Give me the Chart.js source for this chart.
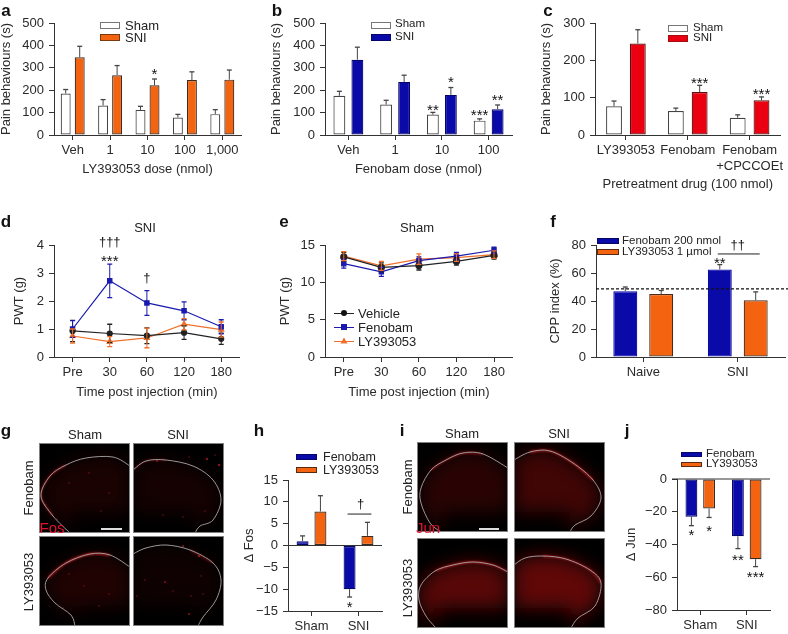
<!DOCTYPE html>
<html><head><meta charset="utf-8">
<script src="https://cdn.jsdelivr.net/npm/chart.js@4"></script>
<style>
html,body{margin:0;padding:0;background:#fff}
#p{position:relative;width:788px;height:634px;overflow:hidden;font-family:"Liberation Sans",Arial,sans-serif;color:#222}
#p canvas{position:absolute}
.t{position:absolute;white-space:nowrap;line-height:1;transform:translate(-50%,-50%)}
.l{transform:translate(0,-50%)}
.s{position:absolute;box-sizing:border-box}
svg{position:absolute}
</style></head><body><div id="p"></div>
<script>
// ---------- data ----------
const aCats=['Veh','1','10','100','1,000'];
const aSham=[185,132,112,78,93], aShamErr=[18,26,16,14,20];
const aSNI=[347,267,222,245,247], aSNIErr=[49,43,28,37,43];
const bCats=['Veh','1','10','100'];
const bSham=[175,136,91,64], bShamErr=[20,19,10,8];
const bSNI=[336,237,179,115], bSNIErr=[56,30,33,19];
const cCats=['LY393053','Fenobam',['Fenobam','+CPCCOEt']];
const cSham=[77,64,46], cShamErr=[14,8,8];
const cSNI=[245,115,93], cSNIErr=[37,18,9];
const timeCats=['Pre','30','60','120','180'];
const dVeh=[0.93,0.84,0.76,0.87,0.65], dVehErr=[0.38,0.33,0.28,0.24,0.20];
const dFen=[1.0,2.72,1.93,1.65,1.08], dFenErr=[0.3,0.6,0.44,0.32,0.25];
const dLY=[0.75,0.55,0.68,1.17,0.98], dLYErr=[0.25,0.18,0.35,0.2,0.27];
const eVeh=[13.4,12.0,12.25,12.8,13.6], eVehErr=[0.6,0.6,0.6,0.5,0.5];
const eFen=[12.5,11.4,12.9,13.5,14.3], eFenErr=[0.6,0.6,0.5,0.5,0.4];
const eLY=[13.5,12.2,13.1,13.3,13.7], eLYErr=[0.6,0.6,0.7,0.5,0.5];
const fCats=['Naive','SNI'];
const fFen=[47,62.5], fFenErr=[3,3.5];
const fLY=[45,40.5], fLYErr=[2.5,6];
const fChance=48.7;
const hCats=['Sham','SNI'];
const hFen=[1,-10], hFenErr=[1.2,1.8];
const hLY=[7.8,2.2], hLYErr=[3.6,3.1];
const jCats=['Sham','SNI'];
const jFen=[-23,-35], jFenErr=[5.5,7.5];
const jLY=[-18,-49], jLYErr=[5.5,4.5];

const ORANGE='#f4630f',BLUE='#0a0aa8',RED='#ea0010',INK='#2a2a2a',AX='#333';
const FONT='"Liberation Sans",Arial,sans-serif';
const root=document.getElementById('p');

function txt(x,y,s,o={}){
  const d=document.createElement('div');d.className='t'+(o.left?' l':'');d.textContent=s;
  d.style.left=x+'px';d.style.top=y+'px';d.style.fontSize=(o.size||13)+'px';
  if(o.bold)d.style.fontWeight='bold';
  if(o.color)d.style.color=o.color;
  if(o.rot)d.style.transform='translate(-50%,-50%) rotate(-90deg)';
  root.appendChild(d);return d;
}
function swatch(x,y,w,h,fill,border){
  const d=document.createElement('div');d.className='s';
  d.style.cssText+=`left:${x}px;top:${y-h/2}px;width:${w}px;height:${h}px;background:${fill};border:1px solid ${border}`;
  root.appendChild(d);
}

const decor={id:'decor',afterDatasetsDraw(ch,_,o){
  const c=ch.ctx,Y=ch.scales.y;
  c.save();
  // error bars
  ch.data.datasets.forEach((ds,i)=>{
    if(!ds.err)return;
    const m=ch.getDatasetMeta(i);
    c.strokeStyle=ds.errColor||'#444';
    ds.data.forEach((v,k)=>{
      const x=m.data[k].x,e=ds.err[k],dir=v<0?-1:1;
      const hi=Y.getPixelForValue(v+dir*e);
      const lo=ch.config.type==='line'?Y.getPixelForValue(v-dir*e):Y.getPixelForValue(v);
      c.lineWidth=1;c.beginPath();c.moveTo(x,hi);c.lineTo(x,lo);c.stroke();
      c.lineWidth=1.3;c.beginPath();c.moveTo(x-2.5,hi);c.lineTo(x+2.5,hi);
      if(ch.config.type==='line'){c.moveTo(x-2.5,lo);c.lineTo(x+2.5,lo);}
      c.stroke();
    });
  });
  // zero baseline
  if(o.zero){
    const y=Y.getPixelForValue(0);c.strokeStyle=AX;c.lineWidth=1;
    c.beginPath();c.moveTo(ch.chartArea.left-5,y);c.lineTo(ch.chartArea.right,y);c.stroke();
  }
  // dashed reference line
  if(o.dash!=null){
    const y=Y.getPixelForValue(o.dash);c.strokeStyle='#111';c.lineWidth=1.3;c.setLineDash([3,2]);
    c.beginPath();c.moveTo(ch.chartArea.left,y);c.lineTo(ch.width,y);c.stroke();c.setLineDash([]);
  }
  // bracket [dsA,cat,dsB,value]
  (o.brackets||[]).forEach(b=>{
    const y=Y.getPixelForValue(b[3]);c.strokeStyle='#222';c.lineWidth=1;
    c.beginPath();c.moveTo(ch.getDatasetMeta(b[0]).data[b[1]].x-2,y);
    c.lineTo(ch.getDatasetMeta(b[2]).data[b[1]].x+4,y);c.stroke();
  });
  // notes [ds,cat,value,text,xshift]
  c.fillStyle='#111';c.textAlign='center';
  (o.notes||[]).forEach(n=>{
    const x=(n[0]==null?(ch.getDatasetMeta(0).data[n[1]].x+ch.getDatasetMeta(ch.data.datasets.length-1).data[n[1]].x)/2:ch.getDatasetMeta(n[0]).data[n[1]].x)+(n[4]||0);
    const y=Y.getPixelForValue(n[2]);
    if(n[3].includes('*')){c.font='15px '+FONT;c.textBaseline='alphabetic';c.fillText(n[3],x,y+8);}
    else{c.font='13px '+FONT;c.textBaseline='middle';c.fillText(n[3],x,y);}
  });
  c.restore();
}};

function mk(o){
  const [l,t,r,b]=o.plot;
  const mt=16,mr=o.mr||4;
  const cl=Math.round(o.ytx-7.8), ct=t-mt;
  const cb=o.xty?Math.round(o.xty+7.8):b+(o.mb||28);
  const cv=document.createElement('canvas');
  const W=r+mr-cl,H=cb-ct;
  cv.width=W;cv.height=H;cv.style.left=cl+'px';cv.style.top=ct+'px';cv.style.width=W+'px';cv.style.height=H+'px';
  root.appendChild(cv);
  const tick={size:13,family:FONT};
  new Chart(cv,{type:o.type,data:{labels:o.cats,datasets:o.ds},plugins:[decor],options:{
    responsive:false,animation:false,
    layout:{padding:{top:mt,right:mr,left:0,bottom:0}},
    plugins:{legend:{display:false},tooltip:{enabled:false},title:{display:false},
      decor:{zero:o.zero,dash:o.dash,notes:o.notes,brackets:o.brackets}},
    scales:{
      x:{type:'category',offset:true,
        grid:{display:true,drawOnChartArea:false,drawTicks:true,tickLength:5,tickColor:AX,tickWidth:1,offset:false},
        border:{display:true,color:AX,width:1},
        ticks:{color:INK,font:tick,padding:3,maxRotation:0,minRotation:0,autoSkip:false},
        title:{display:!!o.xt,text:o.xt,color:INK,font:{size:13,family:FONT},padding:0},
        afterFit:s=>{s.height=cb-b;}},
      y:{min:o.y[0],max:o.y[1],
        grid:{display:true,drawOnChartArea:false,drawTicks:true,tickLength:5,tickColor:AX,tickWidth:1},
        border:{display:true,color:AX,width:1},
        ticks:{color:INK,font:tick,padding:5,stepSize:o.y[2],callback:v=>String(v).replace('-','\u2212')},
        title:{display:true,text:o.yt,color:INK,font:{size:13,family:FONT},padding:0},
        afterFit:s=>{s.width=l-cl;}}
    }}});
}
function bar(label,data,err,fill,border,cp,bp){
  return {label,data,err,backgroundColor:fill,borderColor:border,borderWidth:1.2,borderSkipped:false,categoryPercentage:cp,barPercentage:bp};
}
function line(label,data,err,color,pt,r){
  return {label,data,err,errColor:color,borderColor:color,backgroundColor:color,borderWidth:1.2,pointStyle:pt,pointRadius:r,tension:0};
}
const DK='#3a2a20',SH='#444';

// a
mk({type:'bar',plot:[54,23,241,135],ytx:7,xty:169,cats:aCats,xt:'LY393053 dose (nmol)',yt:'Pain behaviours (s)',y:[0,500,100],
 ds:[bar('Sham',aSham,aShamErr,'#fff',SH,.75,.71),bar('SNI',aSNI,aSNIErr,ORANGE,DK,.75,.71)],
 notes:[[1,2,285,'*']]});
// b
mk({type:'bar',plot:[325,23,512,135],ytx:277,xty:169,cats:bCats,xt:'Fenobam dose (nmol)',yt:'Pain behaviours (s)',y:[0,500,100],
 ds:[bar('Sham',bSham,bShamErr,'#fff',SH,.77,.66),bar('SNI',bSNI,bSNIErr,BLUE,'#06066a',.77,.66)],
 notes:[[0,2,125,'**'],[1,2,249,'*'],[0,3,102,'***'],[1,3,169,'**']]});
// c
mk({type:'bar',plot:[595,23,781,135],ytx:547,xty:184,mr:6,cats:cCats,xt:'Pretreatment drug (100 nmol)',yt:'Pain behaviours (s)',y:[0,300,100],
 ds:[bar('Sham',cSham,cShamErr,'#fff',SH,.77,.667),bar('SNI',cSNI,cSNIErr,RED,'#5a1010',.77,.667)],
 notes:[[1,1,147,'***'],[1,2,118,'***']]});
// d
mk({type:'line',plot:[54,245,241,357],ytx:20,xty:392,cats:timeCats,xt:'Time post injection (min)',yt:'PWT (g)',y:[0,4,1],
 ds:[line('Vehicle',dVeh,dVehErr,'#222','circle',2.5),line('Fenobam',dFen,dFenErr,'#1a1ab0','rect',3),line('LY393053',dLY,dLYErr,'#f0702a','triangle',3)],
 notes:[[1,1,4.1,'\u2020\u2020\u2020'],[1,1,3.54,'***'],[1,2,2.82,'\u2020']]});
// e
mk({type:'line',plot:[325,245,514,357],ytx:286,xty:392,cats:timeCats,xt:'Time post injection (min)',yt:'PWT (g)',y:[0,15,5],
 ds:[line('Vehicle',eVeh,eVehErr,'#222','circle',3),line('Fenobam',eFen,eFenErr,'#1a1ab0','rect',3),line('LY393053',eLY,eLYErr,'#f0702a','triangle',3.5)]});
// f
mk({type:'bar',plot:[596,245,785,357],ytx:556,mr:3,mb:26,cats:fCats,yt:'CPP index (%)',y:[0,80,20],dash:fChance,
 ds:[bar('Fenobam 200 nmol',fFen,fFenErr,BLUE,BLUE,.76,.667),bar('LY393053 1 \u00b5mol',fLY,fLYErr,ORANGE,'#4a2a1a',.76,.667)],
 brackets:[[0,1,1,73.6]],
 notes:[[null,1,80,'\u2020\u2020'],[0,1,69.3,'**']]});
// h
mk({type:'bar',plot:[288,480,382,611],ytx:250,mb:24,cats:hCats,yt:'\u0394 Fos',y:[-15,15,5],zero:true,
 ds:[bar('Fenobam',hFen,hFenErr,BLUE,'#06066a',.76,.67),bar('LY393053',hLY,hLYErr,ORANGE,DK,.76,.67)],
 brackets:[[0,1,1,7.2]],
 notes:[[null,1,9.4,'\u2020',2],[0,1,-13.5,'*']]});
// j
mk({type:'bar',plot:[677,479,770,610],ytx:632,mb:24,cats:jCats,yt:'\u0394 Jun',y:[-80,0,20],zero:true,
 ds:[bar('Fenobam',jFen,jFenErr,BLUE,'#06066a',.76,.67),bar('LY393053',jLY,jLYErr,ORANGE,DK,.76,.67)],
 notes:[[0,0,-32.4,'*'],[1,0,-30,'*'],[0,1,-47.5,'**'],[1,1,-58,'***']]});

// legends
swatch(100,25,20,7,'#fff','#777');swatch(100,37,20,7,ORANGE,'#7a3a10');
txt(125,25,'Sham',{left:1,size:13});txt(125,37,'SNI',{left:1,size:13});
swatch(371,25,20,7,'#fff','#777');swatch(371,37,20,7,BLUE,'#06066a');
txt(395,24,'Sham',{left:1,size:11.5});txt(395,37,'SNI',{left:1,size:11.5});
swatch(668,28,20,7,'#fff','#777');swatch(668,38,20,7,RED,'#a01010');
txt(693,28,'Sham',{left:1,size:11.5});txt(693,38,'SNI',{left:1,size:11.5});
swatch(597,241,22,6,BLUE,'#06066a');swatch(597,252,22,6,ORANGE,'#5a2a10');
txt(622,241,'Fenobam 200 nmol',{left:1,size:11.5});txt(622,252,'LY393053 1 \u00b5mol',{left:1,size:11.5});
swatch(296,457,21,6,BLUE,'#06066a');swatch(296,470,21,6,ORANGE,'#5a2a10');
txt(323,457,'Fenobam',{left:1,size:12.5});txt(323,470,'LY393053',{left:1,size:12.5});
swatch(681,454,21,5,BLUE,'#06066a');swatch(681,464,21,5,ORANGE,'#5a2a10');
txt(706,454,'Fenobam',{left:1,size:11.5});txt(706,464,'LY393053',{left:1,size:11.5});
// e legend
[['Vehicle',313,'#222'],['Fenobam',327,'#1a1ab0'],['LY393053',341,'#f0702a']].forEach(r=>{
  const d=document.createElement('div');d.className='s';
  d.style.cssText+=`left:334px;top:${r[1]-.5}px;width:20px;height:1px;background:${r[2]}`;root.appendChild(d);
  txt(358,r[1],r[0],{left:1,size:13});
});
(function(){
  const k=document.createElementNS('http://www.w3.org/2000/svg','svg');
  k.setAttribute('width','788');k.setAttribute('height','634');k.style.left=0;k.style.top=0;
  k.innerHTML='<circle cx="344" cy="313" r="3" fill="#111"/><rect x="341" y="324" width="6" height="6" fill="#1a1ab0"/><path d="M344 337.5l3.5 6h-7z" fill="#f0702a"/>';
  root.appendChild(k);
})();

// panel titles and letters
txt(145,227,'SNI');txt(417,227,'Sham');
[['a',6,10],['b',277,10],['c',548,10],['d',6,221],['e',284,221],['f',553,221],['g',6,430],['h',259,430],['i',402,430],['j',627,430]]
 .forEach(a=>txt(a[1],a[2],a[0],{bold:1,size:17,color:'#111'}));

// micrographs (illustrative)
txt(85,434,'Sham');txt(178,434,'SNI');txt(28,488,'Fenobam',{rot:1});txt(28,582,'LY393053',{rot:1});
txt(462,433,'Sham');txt(559,433,'SNI');txt(407,487,'Fenobam',{rot:1});txt(407,588,'LY393053',{rot:1});

function spline(p){
  let d=`M${p[0][0]} ${p[0][1]}`;
  for(let i=0;i<p.length-1;i++){
    const a=p[Math.max(i-1,0)],b=p[i],c=p[i+1],e=p[Math.min(i+2,p.length-1)];
    d+=` C${b[0]+(c[0]-a[0])/6} ${b[1]+(c[1]-a[1])/6} ${c[0]-(e[0]-b[0])/6} ${c[1]-(e[1]-b[1])/6} ${c[0]} ${c[1]}`;
  }
  return d;
}
let uid=0;
function micro(x,y,pts,glow,fillOp,dots,glowPart,extra){
  const id='m'+(uid++),s=document.createElementNS('http://www.w3.org/2000/svg','svg');
  s.setAttribute('width',91);s.setAttribute('height',90);s.style.left=x+'px';s.style.top=y+'px';s.style.background='#000';
  const d=spline(pts),gp=spline(pts.slice(glowPart[0],glowPart[1]));
  const last=pts[pts.length-1],first=pts[0];
  const fr='filterUnits="userSpaceOnUse" x="-50" y="-50" width="191" height="190"';
  s.innerHTML=`<defs><clipPath id="${id}c"><rect width="91" height="90"/></clipPath><filter id="${id}b" ${fr}><feGaussianBlur stdDeviation="9"/></filter><filter id="${id}g" ${fr}><feGaussianBlur stdDeviation="1.2"/></filter></defs>
  <g clip-path="url(#${id}c)"><path d="${d} L${last[0]} 70 L${first[0]} 70 Z" fill="#a01010" opacity="${fillOp}" filter="url(#${id}b)"/>
  ${(extra||[]).map(e=>`<path d="${spline(e)}" fill="none" stroke="#c01820" stroke-width="2.5" opacity=".6" filter="url(#${id}g)"/>`).join('')}
  ${dots.map(q=>`<circle cx="${q[0]}" cy="${q[1]}" r="${q[2]||.7}" fill="#c8202a" opacity=".65"/>`).join('')}
  <path d="${gp}" fill="none" stroke="#e02028" stroke-width="1.8" opacity="${glow}" filter="url(#${id}g)"/>
  <path d="${d}" fill="none" stroke="#a8a8a8" stroke-width=".9"/></g>
  <rect x=".5" y=".5" width="90" height="89" fill="none" stroke="#808080"/>`;
  root.appendChild(s);
}
micro(39,443,[[31,90],[14,73],[2,53],[11,33],[27,22],[47,15],[74,14],[91,23]],.55,.16,[[6,62],[30,40],[62,68],[50,30],[70,50],[18,76]],[1,5],[[40,14],[50,8],[58,1]]);
micro(133,443,[[0,27],[13,18],[33,17],[60,23],[80,37],[88,57],[80,77],[67,83],[62,90]],.3,.13,[[24,18,1.1],[56,14],[74,16,1.2],[86,22,1.3],[82,12],[30,72],[50,74],[72,68]],[0,3],[[2,20],[20,16],[40,15]]);
micro(39,536,[[36,90],[32,79],[16,67],[7,54],[9,42],[27,27],[51,18],[71,19],[91,31]],.9,.2,[[30,38],[70,58],[60,70],[45,50],[24,72]],[4,8],[[0,46],[8,42]]);
micro(133,536,[[0,18],[13,12],[33,9],[57,14],[80,27],[88,44],[83,64],[70,81],[65,90]],.45,.09,[[12,44],[32,46,1],[40,55],[58,60],[56,78,1.1],[70,58],[68,40],[50,10,1.1],[66,20,1.2],[4,60]],[3,5],[[44,6],[54,6],[66,18]]);
micro(417,442,[[24,90],[13,81],[4,61],[4,46],[14,28],[29,18],[46,11],[66,12],[91,26]],.55,.26,[],[4,8]);
micro(514,442,[[0,18],[16,10],[36,9],[59,21],[79,38],[87,56],[77,74],[61,83],[56,90]],.8,.4,[],[1,5]);
micro(417,538,[[19,90],[9,78],[2,62],[4,47],[18,33],[36,27],[56,24],[76,27],[91,34]],.7,.55,[],[4,9]);
micro(514,538,[[0,27],[11,20],[29,18],[52,21],[76,32],[87,45],[81,68],[64,80],[57,90]],.65,.6,[],[2,6]);
txt(52,527,'Fos',{color:'#e0102c',size:15});txt(428,527,'Jun',{color:'#e0102c',size:15});
swatch(101,529,21,1.5,'#ddd','#ddd');swatch(479,529,20,1.5,'#ddd','#ddd');
</script></body></html>
